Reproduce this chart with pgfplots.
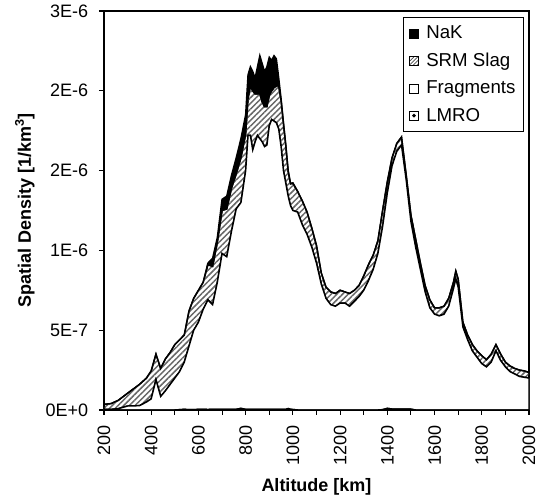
\documentclass[border=0pt]{standalone}
\usepackage{pgfplots}
\pgfplotsset{compat=1.18}
\usepackage{pgfplotstable}
\usetikzlibrary{patterns.meta}
\usepackage{fontspec}
\setmainfont{Liberation Sans}

% values in units of 1E-6 per km^3
\pgfplotstableread{
alt  lmro  frag  slag  nak
200  0     0.004 0.031 0
230  0     0.004 0.036 0
260  0     0.008 0.052 0
300  0     0.025 0.080 0
350  0     0.027 0.133 0
380  0     0.05  0.15  0
400  0     0.07  0.175 0
420  0     0.19  0.16  0
440  0     0.085 0.175 0
460  0     0.12  0.20  0
480  0     0.16  0.20  0
500  0     0.20  0.21  0
520  0.002 0.238 0.20  0
540  0.004 0.296 0.17  0
560  0.002 0.398 0.22  0
580  0.002 0.498 0.20  0
600  0.004 0.546 0.20  0
620  0.004 0.626 0.17  0
640  0.003 0.687 0.22  0.01
660  0.004 0.656 0.24  0.05
680  0.004 0.796 0.25  0.03
700  0.004 0.976 0.27  0.07
720  0.004 0.956 0.30  0.08
740  0.004 1.116 0.27  0.08
760  0.004 1.256 0.22  0.10
780  0.010 1.29  0.28  0.12
800  0.004 1.496 0.23  0.12
810  0.004 1.716 0.23  0.15
820  0.004 1.716 0.31  0.12
830  0.004 1.626 0.37  0.12
840  0.004 1.676 0.30  0.10
850  0.004 1.716 0.26  0.17
860  0.004 1.696 0.28  0.24
870  0.004 1.676 0.25  0.24
880  0.004 1.646 0.25  0.22
890  0.004 1.656 0.24  0.25
900  0.004 1.776 0.19  0.24
910  0.004 1.816 0.18  0.19
920  0.004 1.806 0.21  0.20
930  0.004 1.796 0.23  0.17
940  0.004 1.756 0.27  0.05
950  0.004 1.646 0.29  0.01
960  0.004 1.496 0.295 0.005
970  0.004 1.416 0.235 0.005
980  0.009 1.331 0.155 0.005
990  0.004 1.276 0.137 0.003
1000 0.003 1.247 0.17  0.003
1020 0     1.24  0.13  0
1040 0     1.16  0.15  0
1060 0     1.10  0.14  0
1080 0     1.02  0.12  0
1100 0     0.92  0.11  0
1120 0     0.79  0.07  0
1140 0     0.70  0.07  0
1160 0     0.66  0.08  0
1180 0     0.65  0.08  0
1200 0     0.67  0.08  0
1220 0     0.67  0.07  0
1240 0     0.65  0.08  0
1260 0     0.68  0.07  0
1280 0     0.71  0.07  0
1300 0     0.75  0.09  0
1320 0     0.81  0.10  0
1340 0     0.88  0.09  0
1360 0     0.98  0.08  0
1380 0.002 1.148 0.10  0
1400 0.010 1.35  0.07  0
1420 0.006 1.524 0.05  0
1440 0.005 1.615 0.05  0
1460 0.005 1.655 0.05  0
1480 0.005 1.435 0.03  0
1500 0.005 1.175 0.04  0
1520 0     1.02  0.05  0
1540 0     0.88  0.04  0
1560 0     0.74  0.04  0
1580 0     0.64  0.05  0
1600 0     0.60  0.04  0
1620 0     0.59  0.05  0
1640 0     0.60  0.05  0
1660 0     0.65  0.05  0
1680 0     0.76  0.04  0
1690 0     0.82  0.05  0
1700 0     0.77  0.05  0
1720 0     0.52  0.03  0
1740 0     0.44  0.03  0
1760 0     0.37  0.04  0
1780 0     0.33  0.04  0
1800 0     0.29  0.05  0
1820 0     0.27  0.045 0
1840 0     0.30  0.05  0
1860 0     0.37  0.04  0
1880 0     0.31  0.04  0
1900 0     0.27  0.03  0
1920 0     0.24  0.035 0
1940 0     0.225 0.035 0
1960 0     0.21  0.04  0
1980 0     0.205 0.04  0
2000 0     0.20  0.035 0
}\datatable

\begin{document}
\begin{tikzpicture}
\begin{axis}[
  scale only axis,
  width=318.75pt, height=299.25pt,
  xmin=200, xmax=2000, ymin=0, ymax=2.5,
  stack plots=y,
  axis line style={black, line width=0.8pt},
  tick align=outside, xtick pos=lower, ytick pos=left,
  major tick length=3.75pt, minor tick length=3.75pt,
  tick style={black, line width=0.8pt},
  xtick={200,400,...,2000},
  minor xtick={300,500,...,1900},
  ytick={0,0.5,1,1.5,2,2.5},
  yticklabels={0E+0,5E-7,1E-6,2E-6,2E-6,3E-6},
  /pgf/number format/assume math mode=true,
  xticklabel={\pgfmathprintnumber[1000 sep={}]{\tick}},
  ticklabel style={font=\fontsize{13.5}{15}\selectfont},
  xticklabel style={rotate=90, anchor=east, inner sep=0pt},
  yticklabel style={inner sep=0pt, xshift=-8pt},
  xticklabel shift=8pt,
  xlabel={\bfseries Altitude [km]},
  ylabel={\bfseries Spatial Density [1/km\textsuperscript{3}]},
  label style={font=\fontsize{13.5}{15}\selectfont},
  xlabel style={at={(0.5,-0.193)}, anchor=center},
  ylabel style={at={(-0.186,0.5)}, anchor=center},
  legend cell align=left,
  reverse legend,
  legend style={at={(0.988,0.985)}, anchor=north east, draw=black, line width=0.6pt,
    font=\fontsize{14}{16}\selectfont, row sep=5.2pt, inner xsep=4pt, inner ysep=4.5pt,
    /tikz/every odd column/.append style={column sep=3.5pt}},
  every axis plot/.append style={line width=1.1pt, draw=black},
]
\addplot[fill=white, pattern={Dots[distance=3pt, radius=0.4pt]}, pattern color=black,
  legend image code/.code={\draw[line width=0.5pt, fill=white] (0pt,-3.4pt) rectangle (6.8pt,3.4pt); \fill (3.4pt,0pt) circle (0.7pt);}]
  table[x=alt, y=lmro] {\datatable} \closedcycle;
\addlegendentry{LMRO}
\addplot[fill=white,
  legend image code/.code={\draw[line width=0.5pt, fill=white] (0pt,-3.4pt) rectangle (6.8pt,3.4pt);}]
  table[x=alt, y=frag] {\datatable} \closedcycle;
\addlegendentry{Fragments}
\addplot[pattern={Lines[angle=45, distance=3pt, line width=1.1pt]}, pattern color=black!60,
  legend image code/.code={\draw[line width=0.5pt, pattern={Lines[angle=45, distance=2pt, line width=0.6pt]}, pattern color=black!70] (0pt,-3.4pt) rectangle (6.8pt,3.4pt);}]
  table[x=alt, y=slag] {\datatable} \closedcycle;
\addlegendentry{SRM Slag}
\addplot[fill=black,
  legend image code/.code={\draw[line width=0.5pt, fill=black] (0pt,-3.4pt) rectangle (6.8pt,3.4pt);}]
  table[x=alt, y=nak] {\datatable} \closedcycle;
\addlegendentry{NaK}
\coordinate (bl) at (rel axis cs:0,0);
\coordinate (tr) at (rel axis cs:1,1);
\end{axis}
\pgfresetboundingbox
\path ([shift={(-78pt,-68.25pt)}]bl) rectangle ([shift={(7.5pt,8.25pt)}]tr);
\end{tikzpicture}
\end{document}
